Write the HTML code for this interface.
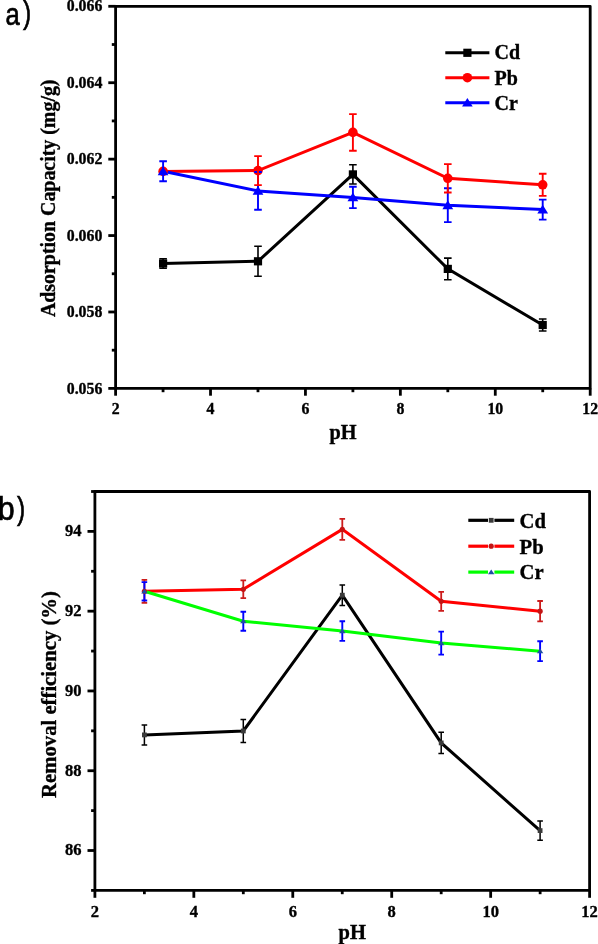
<!DOCTYPE html>
<html><head><meta charset="utf-8"><title>Adsorption and removal efficiency vs pH</title>
<style>html,body{margin:0;padding:0;background:#fff;}body{width:598px;height:944px;overflow:hidden;}svg{display:block;will-change:transform;}</style>
</head><body>
<svg width="598" height="944" viewBox="0 0 598 944">
<rect width="598" height="944" fill="#fff"/>
<polyline points="163.10,263.50 258.00,261.30 352.90,174.40 447.80,268.90 542.70,325.00" fill="none" stroke="#000" stroke-width="3.0" stroke-linejoin="miter" stroke-miterlimit="4"/>
<polyline points="163.10,171.40 258.00,170.60 352.90,132.40 447.80,178.30 542.70,184.80" fill="none" stroke="#ff0000" stroke-width="3.0" stroke-linejoin="miter" stroke-miterlimit="4"/>
<polyline points="163.10,171.30 258.00,190.90 352.90,197.40 447.80,205.20 542.70,209.60" fill="none" stroke="#0000ff" stroke-width="3.0" stroke-linejoin="miter" stroke-miterlimit="4"/>
<rect x="159.00" y="259.40" width="8.2" height="8.2" fill="#000"/>
<rect x="253.90" y="257.20" width="8.2" height="8.2" fill="#000"/>
<rect x="348.80" y="170.30" width="8.2" height="8.2" fill="#000"/>
<rect x="443.70" y="264.80" width="8.2" height="8.2" fill="#000"/>
<rect x="538.60" y="320.90" width="8.2" height="8.2" fill="#000"/>
<circle cx="163.10" cy="171.40" r="4.8" fill="#ff0000"/>
<circle cx="258.00" cy="170.60" r="4.8" fill="#ff0000"/>
<circle cx="352.90" cy="132.40" r="4.8" fill="#ff0000"/>
<circle cx="447.80" cy="178.30" r="4.8" fill="#ff0000"/>
<circle cx="542.70" cy="184.80" r="4.8" fill="#ff0000"/>
<polygon points="163.10,166.46 168.50,175.26 157.70,175.26" fill="#0000ff"/>
<polygon points="258.00,186.06 263.40,194.86 252.60,194.86" fill="#0000ff"/>
<polygon points="352.90,192.56 358.30,201.36 347.50,201.36" fill="#0000ff"/>
<polygon points="447.80,200.36 453.20,209.16 442.40,209.16" fill="#0000ff"/>
<polygon points="542.70,204.76 548.10,213.56 537.30,213.56" fill="#0000ff"/>
<path d="M163.10 258.70V268.30M159.30 258.70H166.90M159.30 268.30H166.90" stroke="#000" stroke-width="1.6" fill="none"/>
<path d="M258.00 246.30V276.30M254.20 246.30H261.80M254.20 276.30H261.80" stroke="#000" stroke-width="1.6" fill="none"/>
<path d="M352.90 164.80V184.00M349.10 164.80H356.70M349.10 184.00H356.70" stroke="#000" stroke-width="1.6" fill="none"/>
<path d="M447.80 258.10V279.70M444.00 258.10H451.60M444.00 279.70H451.60" stroke="#000" stroke-width="1.6" fill="none"/>
<path d="M542.70 319.00V331.00M538.90 319.00H546.50M538.90 331.00H546.50" stroke="#000" stroke-width="1.6" fill="none"/>
<path d="M163.10 161.30V181.30M159.30 161.30H166.90M159.30 181.30H166.90" stroke="#0000ff" stroke-width="1.9" fill="none"/>
<path d="M258.00 172.00V209.80M254.20 172.00H261.80M254.20 209.80H261.80" stroke="#0000ff" stroke-width="1.9" fill="none"/>
<path d="M352.90 186.70V208.10M349.10 186.70H356.70M349.10 208.10H356.70" stroke="#0000ff" stroke-width="1.9" fill="none"/>
<path d="M447.80 188.30V222.10M444.00 188.30H451.60M444.00 222.10H451.60" stroke="#0000ff" stroke-width="1.9" fill="none"/>
<path d="M542.70 199.60V219.60M538.90 199.60H546.50M538.90 219.60H546.50" stroke="#0000ff" stroke-width="1.9" fill="none"/>
<path d="M258.00 156.10V185.10M254.20 156.10H261.80M254.20 185.10H261.80" stroke="#ff0000" stroke-width="1.9" fill="none"/>
<path d="M352.90 114.10V150.70M349.10 114.10H356.70M349.10 150.70H356.70" stroke="#ff0000" stroke-width="1.9" fill="none"/>
<path d="M447.80 164.10V192.50M444.00 164.10H451.60M444.00 192.50H451.60" stroke="#ff0000" stroke-width="1.9" fill="none"/>
<path d="M542.70 173.70V195.90M538.90 173.70H546.50M538.90 195.90H546.50" stroke="#ff0000" stroke-width="1.9" fill="none"/>
<rect x="115.6" y="6.3" width="474.6" height="382.09999999999997" fill="none" stroke="#000" stroke-width="2.8" stroke-linejoin="round"/>
<line x1="115.60" y1="388.4" x2="115.60" y2="395.7" stroke="#000" stroke-width="2.8"/>
<line x1="163.06" y1="388.4" x2="163.06" y2="392.2" stroke="#000" stroke-width="2.8"/>
<line x1="210.52" y1="388.4" x2="210.52" y2="395.7" stroke="#000" stroke-width="2.8"/>
<line x1="257.98" y1="388.4" x2="257.98" y2="392.2" stroke="#000" stroke-width="2.8"/>
<line x1="305.44" y1="388.4" x2="305.44" y2="395.7" stroke="#000" stroke-width="2.8"/>
<line x1="352.90" y1="388.4" x2="352.90" y2="392.2" stroke="#000" stroke-width="2.8"/>
<line x1="400.36" y1="388.4" x2="400.36" y2="395.7" stroke="#000" stroke-width="2.8"/>
<line x1="447.82" y1="388.4" x2="447.82" y2="392.2" stroke="#000" stroke-width="2.8"/>
<line x1="495.28" y1="388.4" x2="495.28" y2="395.7" stroke="#000" stroke-width="2.8"/>
<line x1="542.74" y1="388.4" x2="542.74" y2="392.2" stroke="#000" stroke-width="2.8"/>
<line x1="590.20" y1="388.4" x2="590.20" y2="395.7" stroke="#000" stroke-width="2.8"/>
<line x1="108.3" y1="388.40" x2="115.6" y2="388.40" stroke="#000" stroke-width="2.8"/>
<line x1="111.8" y1="350.19" x2="115.6" y2="350.19" stroke="#000" stroke-width="2.8"/>
<line x1="108.3" y1="311.98" x2="115.6" y2="311.98" stroke="#000" stroke-width="2.8"/>
<line x1="111.8" y1="273.77" x2="115.6" y2="273.77" stroke="#000" stroke-width="2.8"/>
<line x1="108.3" y1="235.56" x2="115.6" y2="235.56" stroke="#000" stroke-width="2.8"/>
<line x1="111.8" y1="197.35" x2="115.6" y2="197.35" stroke="#000" stroke-width="2.8"/>
<line x1="108.3" y1="159.14" x2="115.6" y2="159.14" stroke="#000" stroke-width="2.8"/>
<line x1="111.8" y1="120.93" x2="115.6" y2="120.93" stroke="#000" stroke-width="2.8"/>
<line x1="108.3" y1="82.72" x2="115.6" y2="82.72" stroke="#000" stroke-width="2.8"/>
<line x1="111.8" y1="44.51" x2="115.6" y2="44.51" stroke="#000" stroke-width="2.8"/>
<line x1="108.3" y1="6.30" x2="115.6" y2="6.30" stroke="#000" stroke-width="2.8"/>
<text x="102.3" y="11.40" font-family='"Liberation Serif", serif' font-weight="bold" font-size="15.8" text-anchor="end" stroke="#000" stroke-width="0.35" >0.066</text>
<text x="102.3" y="87.82" font-family='"Liberation Serif", serif' font-weight="bold" font-size="15.8" text-anchor="end" stroke="#000" stroke-width="0.35" >0.064</text>
<text x="102.3" y="164.24" font-family='"Liberation Serif", serif' font-weight="bold" font-size="15.8" text-anchor="end" stroke="#000" stroke-width="0.35" >0.062</text>
<text x="102.3" y="240.66" font-family='"Liberation Serif", serif' font-weight="bold" font-size="15.8" text-anchor="end" stroke="#000" stroke-width="0.35" >0.060</text>
<text x="102.3" y="317.08" font-family='"Liberation Serif", serif' font-weight="bold" font-size="15.8" text-anchor="end" stroke="#000" stroke-width="0.35" >0.058</text>
<text x="102.3" y="393.50" font-family='"Liberation Serif", serif' font-weight="bold" font-size="15.8" text-anchor="end" stroke="#000" stroke-width="0.35" >0.056</text>
<text x="115.60" y="413.8" font-family='"Liberation Serif", serif' font-weight="bold" font-size="15.8" text-anchor="middle" stroke="#000" stroke-width="0.35" >2</text>
<text x="210.52" y="413.8" font-family='"Liberation Serif", serif' font-weight="bold" font-size="15.8" text-anchor="middle" stroke="#000" stroke-width="0.35" >4</text>
<text x="305.44" y="413.8" font-family='"Liberation Serif", serif' font-weight="bold" font-size="15.8" text-anchor="middle" stroke="#000" stroke-width="0.35" >6</text>
<text x="400.36" y="413.8" font-family='"Liberation Serif", serif' font-weight="bold" font-size="15.8" text-anchor="middle" stroke="#000" stroke-width="0.35" >8</text>
<text x="495.28" y="413.8" font-family='"Liberation Serif", serif' font-weight="bold" font-size="15.8" text-anchor="middle" stroke="#000" stroke-width="0.35" >10</text>
<text x="590.20" y="413.8" font-family='"Liberation Serif", serif' font-weight="bold" font-size="15.8" text-anchor="middle" stroke="#000" stroke-width="0.35" >12</text>
<text x="343.0" y="439.3" font-family='"Liberation Serif", serif' font-weight="bold" font-size="20.3" text-anchor="middle" stroke="#000" stroke-width="0.35" >pH</text>
<text x="0" y="0" font-family='"Liberation Serif", serif' font-weight="bold" font-size="19.9" text-anchor="middle" stroke="#000" stroke-width="0.35" transform="translate(55.2 198.3) rotate(-90)">Adsorption Capacity (mg/g)</text>
<line x1="445.3" y1="52.8" x2="489.4" y2="52.8" stroke="#000" stroke-width="3"/>
<rect x="463.30" y="48.70" width="8.2" height="8.2" fill="#000"/>
<text x="494.6" y="59.4" font-family='"Liberation Serif", serif' font-weight="bold" font-size="20.0" text-anchor="start" stroke="#000" stroke-width="0.35" >Cd</text>
<line x1="445.3" y1="77.7" x2="489.4" y2="77.7" stroke="#ff0000" stroke-width="3"/>
<circle cx="467.40" cy="77.70" r="4.8" fill="#ff0000"/>
<text x="494.6" y="84.5" font-family='"Liberation Serif", serif' font-weight="bold" font-size="20.0" text-anchor="start" stroke="#000" stroke-width="0.35" >Pb</text>
<line x1="445.3" y1="102.7" x2="489.4" y2="102.7" stroke="#0000ff" stroke-width="3"/>
<polygon points="467.40,97.97 472.70,106.57 462.10,106.57" fill="#0000ff"/>
<text x="494.6" y="109.5" font-family='"Liberation Serif", serif' font-weight="bold" font-size="20.0" text-anchor="start" stroke="#000" stroke-width="0.35" >Cr</text>
<text x="0" y="0" font-family='"Liberation Sans", sans-serif' font-weight="normal" font-size="32" text-anchor="start" stroke="#000" stroke-width="0.7" transform="translate(5.4 25.0) scale(0.8 1)">a</text>
<text x="0" y="0" font-family='"Liberation Sans", sans-serif' font-weight="normal" font-size="31.5" text-anchor="start" stroke="#000" stroke-width="0.7" transform="translate(23.0 23.4) scale(0.78 1)">)</text>
<polyline points="144.40,734.90 243.30,731.00 342.30,595.20 441.20,742.90 540.10,830.60" fill="none" stroke="#000" stroke-width="3.0" stroke-linejoin="miter" stroke-miterlimit="4"/>
<polyline points="144.40,591.30 243.30,589.30 342.30,529.40 441.20,601.30 540.10,611.20" fill="none" stroke="#ff0000" stroke-width="3.0" stroke-linejoin="miter" stroke-miterlimit="4"/>
<polyline points="144.40,591.30 243.30,621.20 342.30,631.10 441.20,643.10 540.10,651.20" fill="none" stroke="#00ff00" stroke-width="3.0" stroke-linejoin="miter" stroke-miterlimit="4"/>
<path d="M144.40 724.90V744.90M141.60 724.90H147.20M141.60 744.90H147.20" stroke="#000" stroke-width="1.5" fill="none"/>
<path d="M243.30 719.40V742.60M240.50 719.40H246.10M240.50 742.60H246.10" stroke="#000" stroke-width="1.5" fill="none"/>
<path d="M342.30 585.00V605.40M339.50 585.00H345.10M339.50 605.40H345.10" stroke="#000" stroke-width="1.5" fill="none"/>
<path d="M441.20 732.20V753.60M438.40 732.20H444.00M438.40 753.60H444.00" stroke="#000" stroke-width="1.5" fill="none"/>
<path d="M540.10 820.90V840.30M537.30 820.90H542.90M537.30 840.30H542.90" stroke="#000" stroke-width="1.5" fill="none"/>
<path d="M144.40 579.80V602.80M141.60 579.80H147.20M141.60 602.80H147.20" stroke="#cc1c1c" stroke-width="1.8" fill="none"/>
<path d="M243.30 580.40V598.20M240.50 580.40H246.10M240.50 598.20H246.10" stroke="#cc1c1c" stroke-width="1.8" fill="none"/>
<path d="M342.30 518.90V539.90M339.50 518.90H345.10M339.50 539.90H345.10" stroke="#cc1c1c" stroke-width="1.8" fill="none"/>
<path d="M441.20 591.80V610.80M438.40 591.80H444.00M438.40 610.80H444.00" stroke="#cc1c1c" stroke-width="1.8" fill="none"/>
<path d="M540.10 601.00V621.40M537.30 601.00H542.90M537.30 621.40H542.90" stroke="#cc1c1c" stroke-width="1.8" fill="none"/>
<path d="M144.40 582.10V600.50M141.60 582.10H147.20M141.60 600.50H147.20" stroke="#0000ff" stroke-width="1.9" fill="none"/>
<path d="M243.30 611.70V630.70M240.50 611.70H246.10M240.50 630.70H246.10" stroke="#0000ff" stroke-width="1.9" fill="none"/>
<path d="M342.30 621.30V640.90M339.50 621.30H345.10M339.50 640.90H345.10" stroke="#0000ff" stroke-width="1.9" fill="none"/>
<path d="M441.20 631.60V654.60M438.40 631.60H444.00M438.40 654.60H444.00" stroke="#0000ff" stroke-width="1.9" fill="none"/>
<path d="M540.10 641.30V661.10M537.30 641.30H542.90M537.30 661.10H542.90" stroke="#0000ff" stroke-width="1.9" fill="none"/>
<rect x="142.00" y="732.50" width="4.8" height="4.8" fill="#3a3a3a"/>
<rect x="240.90" y="728.60" width="4.8" height="4.8" fill="#3a3a3a"/>
<rect x="339.90" y="592.80" width="4.8" height="4.8" fill="#3a3a3a"/>
<rect x="438.80" y="740.50" width="4.8" height="4.8" fill="#3a3a3a"/>
<rect x="537.70" y="828.20" width="4.8" height="4.8" fill="#3a3a3a"/>
<circle cx="144.40" cy="591.30" r="2.6" fill="#c41414"/>
<circle cx="243.30" cy="589.30" r="2.6" fill="#c41414"/>
<circle cx="342.30" cy="529.40" r="2.6" fill="#c41414"/>
<circle cx="441.20" cy="601.30" r="2.6" fill="#c41414"/>
<circle cx="540.10" cy="611.20" r="2.6" fill="#c41414"/>
<polygon points="144.40,588.66 147.60,593.46 141.20,593.46" fill="#1f4fa3"/>
<polygon points="243.30,618.56 246.50,623.36 240.10,623.36" fill="#1f4fa3"/>
<polygon points="342.30,628.46 345.50,633.26 339.10,633.26" fill="#1f4fa3"/>
<polygon points="441.20,640.46 444.40,645.26 438.00,645.26" fill="#1f4fa3"/>
<polygon points="540.10,648.56 543.30,653.36 536.90,653.36" fill="#1f4fa3"/>
<rect x="94.9" y="491.5" width="494.70000000000005" height="398.9" fill="none" stroke="#000" stroke-width="2.8" stroke-linejoin="round"/>
<line x1="94.90" y1="890.4" x2="94.90" y2="897.8" stroke="#000" stroke-width="2.8"/>
<line x1="144.37" y1="890.4" x2="144.37" y2="894.1999999999999" stroke="#000" stroke-width="2.8"/>
<line x1="193.84" y1="890.4" x2="193.84" y2="897.8" stroke="#000" stroke-width="2.8"/>
<line x1="243.31" y1="890.4" x2="243.31" y2="894.1999999999999" stroke="#000" stroke-width="2.8"/>
<line x1="292.78" y1="890.4" x2="292.78" y2="897.8" stroke="#000" stroke-width="2.8"/>
<line x1="342.25" y1="890.4" x2="342.25" y2="894.1999999999999" stroke="#000" stroke-width="2.8"/>
<line x1="391.72" y1="890.4" x2="391.72" y2="897.8" stroke="#000" stroke-width="2.8"/>
<line x1="441.19" y1="890.4" x2="441.19" y2="894.1999999999999" stroke="#000" stroke-width="2.8"/>
<line x1="490.66" y1="890.4" x2="490.66" y2="897.8" stroke="#000" stroke-width="2.8"/>
<line x1="540.13" y1="890.4" x2="540.13" y2="894.1999999999999" stroke="#000" stroke-width="2.8"/>
<line x1="589.60" y1="890.4" x2="589.60" y2="897.8" stroke="#000" stroke-width="2.8"/>
<line x1="91.10000000000001" y1="890.40" x2="94.9" y2="890.40" stroke="#000" stroke-width="2.8"/>
<line x1="87.5" y1="850.51" x2="94.9" y2="850.51" stroke="#000" stroke-width="2.8"/>
<line x1="91.10000000000001" y1="810.62" x2="94.9" y2="810.62" stroke="#000" stroke-width="2.8"/>
<line x1="87.5" y1="770.73" x2="94.9" y2="770.73" stroke="#000" stroke-width="2.8"/>
<line x1="91.10000000000001" y1="730.84" x2="94.9" y2="730.84" stroke="#000" stroke-width="2.8"/>
<line x1="87.5" y1="690.95" x2="94.9" y2="690.95" stroke="#000" stroke-width="2.8"/>
<line x1="91.10000000000001" y1="651.06" x2="94.9" y2="651.06" stroke="#000" stroke-width="2.8"/>
<line x1="87.5" y1="611.17" x2="94.9" y2="611.17" stroke="#000" stroke-width="2.8"/>
<line x1="91.10000000000001" y1="571.28" x2="94.9" y2="571.28" stroke="#000" stroke-width="2.8"/>
<line x1="87.5" y1="531.39" x2="94.9" y2="531.39" stroke="#000" stroke-width="2.8"/>
<line x1="91.10000000000001" y1="491.50" x2="94.9" y2="491.50" stroke="#000" stroke-width="2.8"/>
<text x="81.5" y="536.19" font-family='"Liberation Serif", serif' font-weight="bold" font-size="16.5" text-anchor="end" stroke="#000" stroke-width="0.35" >94</text>
<text x="81.5" y="615.97" font-family='"Liberation Serif", serif' font-weight="bold" font-size="16.5" text-anchor="end" stroke="#000" stroke-width="0.35" >92</text>
<text x="81.5" y="695.75" font-family='"Liberation Serif", serif' font-weight="bold" font-size="16.5" text-anchor="end" stroke="#000" stroke-width="0.35" >90</text>
<text x="81.5" y="775.53" font-family='"Liberation Serif", serif' font-weight="bold" font-size="16.5" text-anchor="end" stroke="#000" stroke-width="0.35" >88</text>
<text x="81.5" y="855.31" font-family='"Liberation Serif", serif' font-weight="bold" font-size="16.5" text-anchor="end" stroke="#000" stroke-width="0.35" >86</text>
<text x="94.90" y="916.7" font-family='"Liberation Serif", serif' font-weight="bold" font-size="16.5" text-anchor="middle" stroke="#000" stroke-width="0.35" >2</text>
<text x="193.84" y="916.7" font-family='"Liberation Serif", serif' font-weight="bold" font-size="16.5" text-anchor="middle" stroke="#000" stroke-width="0.35" >4</text>
<text x="292.78" y="916.7" font-family='"Liberation Serif", serif' font-weight="bold" font-size="16.5" text-anchor="middle" stroke="#000" stroke-width="0.35" >6</text>
<text x="391.72" y="916.7" font-family='"Liberation Serif", serif' font-weight="bold" font-size="16.5" text-anchor="middle" stroke="#000" stroke-width="0.35" >8</text>
<text x="490.66" y="916.7" font-family='"Liberation Serif", serif' font-weight="bold" font-size="16.5" text-anchor="middle" stroke="#000" stroke-width="0.35" >10</text>
<text x="589.60" y="916.7" font-family='"Liberation Serif", serif' font-weight="bold" font-size="16.5" text-anchor="middle" stroke="#000" stroke-width="0.35" >12</text>
<text x="352.2" y="939.4" font-family='"Liberation Serif", serif' font-weight="bold" font-size="20.5" text-anchor="middle" stroke="#000" stroke-width="0.35" >pH</text>
<text x="0" y="0" font-family='"Liberation Serif", serif' font-weight="bold" font-size="20.7" text-anchor="middle" stroke="#000" stroke-width="0.35" transform="translate(55.6 694.5) rotate(-90)">Removal efficiency (%)</text>
<line x1="468.3" y1="520.3" x2="488.0" y2="520.3" stroke="#000" stroke-width="3.2"/>
<line x1="494.4" y1="520.3" x2="514.2" y2="520.3" stroke="#000" stroke-width="3.2"/>
<rect x="488.80" y="517.90" width="4.8" height="4.8" fill="#3a3a3a"/>
<text x="519.6" y="527.5" font-family='"Liberation Serif", serif' font-weight="bold" font-size="20.6" text-anchor="start" stroke="#000" stroke-width="0.35" >Cd</text>
<line x1="468.3" y1="546.2" x2="488.0" y2="546.2" stroke="#ff0000" stroke-width="3.2"/>
<line x1="494.4" y1="546.2" x2="514.2" y2="546.2" stroke="#ff0000" stroke-width="3.2"/>
<circle cx="491.20" cy="546.20" r="2.6" fill="#c41414"/>
<text x="519.6" y="553.5" font-family='"Liberation Serif", serif' font-weight="bold" font-size="20.6" text-anchor="start" stroke="#000" stroke-width="0.35" >Pb</text>
<line x1="468.3" y1="572.1" x2="488.0" y2="572.1" stroke="#00ff00" stroke-width="3.2"/>
<line x1="494.4" y1="572.1" x2="514.2" y2="572.1" stroke="#00ff00" stroke-width="3.2"/>
<polygon points="491.20,569.46 494.40,574.26 488.00,574.26" fill="#1f4fa3"/>
<text x="519.6" y="579.4" font-family='"Liberation Serif", serif' font-weight="bold" font-size="20.6" text-anchor="start" stroke="#000" stroke-width="0.35" >Cr</text>
<text x="0" y="0" font-family='"Liberation Sans", sans-serif' font-weight="normal" font-size="33" text-anchor="start" stroke="#000" stroke-width="0.7" transform="translate(-2.2 520.3) scale(0.92 1)">b</text>
<text x="0" y="0" font-family='"Liberation Sans", sans-serif' font-weight="normal" font-size="31.5" text-anchor="start" stroke="#000" stroke-width="0.7" transform="translate(17.0 519.3) scale(0.78 1)">)</text>
</svg>
</body></html>
